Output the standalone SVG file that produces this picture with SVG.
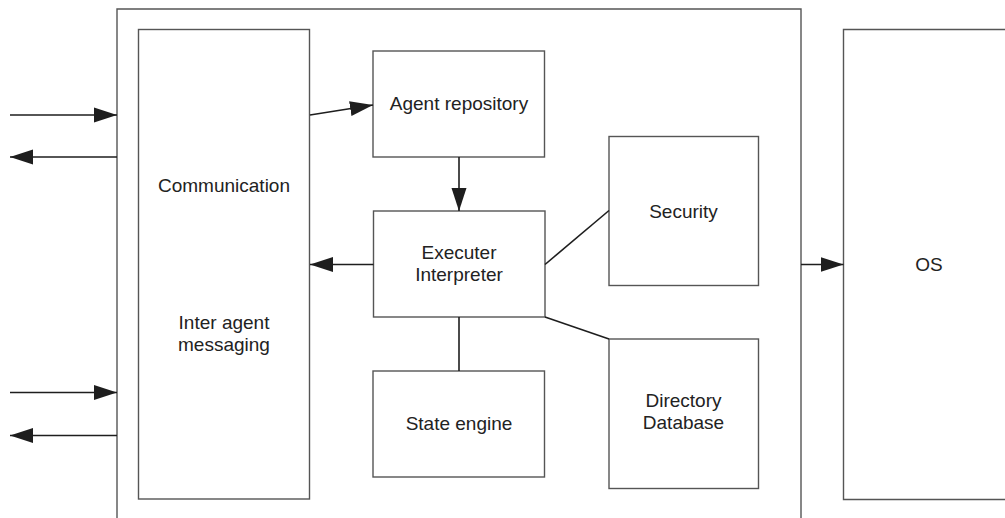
<svg xmlns="http://www.w3.org/2000/svg" width="1005" height="518" viewBox="0 0 1005 518">
<defs>
<marker id="ah" markerUnits="userSpaceOnUse" markerWidth="24" markerHeight="16" refX="23" refY="8" orient="auto">
<path d="M0,0.5 L23,8 L0,15.5 Z" fill="#1e1e1e"/>
</marker>
<style>
.box{fill:#fff;stroke:#555;stroke-width:1.4}
.ln{fill:none;stroke:#1e1e1e;stroke-width:1.6}
.arr{fill:none;stroke:#1e1e1e;stroke-width:1.6;marker-end:url(#ah)}
text{font-family:"Liberation Sans",Arial,sans-serif;font-size:19px;fill:#222;text-anchor:middle}
</style>
</defs>
<rect width="1005" height="518" fill="#fff"/>
<g id="container"><path class="box" d="M117,520 V9 H801 V520" fill="none"/></g>
<g id="communication"><rect class="box" x="138.5" y="29.5" width="171" height="469.5"/>
<text x="224" y="191.5">Communication</text>
<text x="224" y="328.5">Inter agent</text>
<text x="224" y="350.5">messaging</text></g>
<g id="agent-repository"><rect class="box" x="373" y="51" width="171.5" height="106"/>
<text x="459" y="110">Agent repository</text></g>
<g id="executer"><rect class="box" x="373.5" y="211" width="171.5" height="106"/>
<text x="459" y="259">Executer</text>
<text x="459" y="281">Interpreter</text></g>
<g id="state-engine"><rect class="box" x="373" y="371" width="171.5" height="106"/>
<text x="459" y="430">State engine</text></g>
<g id="security"><rect class="box" x="609" y="136.5" width="149.5" height="149"/>
<text x="683.5" y="218">Security</text></g>
<g id="directory"><rect class="box" x="609" y="339" width="149.5" height="149.5"/>
<text x="683.5" y="407">Directory</text>
<text x="683.5" y="429">Database</text></g>
<g id="os"><path class="box" d="M1010,29.5 H843.5 V499.5 H1010"/>
<text x="929" y="271">OS</text></g>
<g id="connectors">
<line class="arr" x1="10" y1="115" x2="117" y2="115"/>
<line class="arr" x1="117" y1="157" x2="10" y2="157"/>
<line class="arr" x1="10" y1="392.5" x2="117" y2="392.5"/>
<line class="arr" x1="117" y1="435.5" x2="10" y2="435.5"/>
<line class="arr" x1="310" y1="115" x2="373" y2="105"/>
<line class="arr" x1="459" y1="157" x2="459" y2="211"/>
<line class="arr" x1="373.5" y1="264.5" x2="310" y2="264.5"/>
<line class="ln" x1="545" y1="264.5" x2="609" y2="210.5"/>
<line class="ln" x1="545" y1="317" x2="609" y2="339"/>
<line class="ln" x1="459" y1="317" x2="459" y2="371"/>
<line class="arr" x1="801" y1="264.5" x2="843.5" y2="264.5"/>
</g>
</svg>
